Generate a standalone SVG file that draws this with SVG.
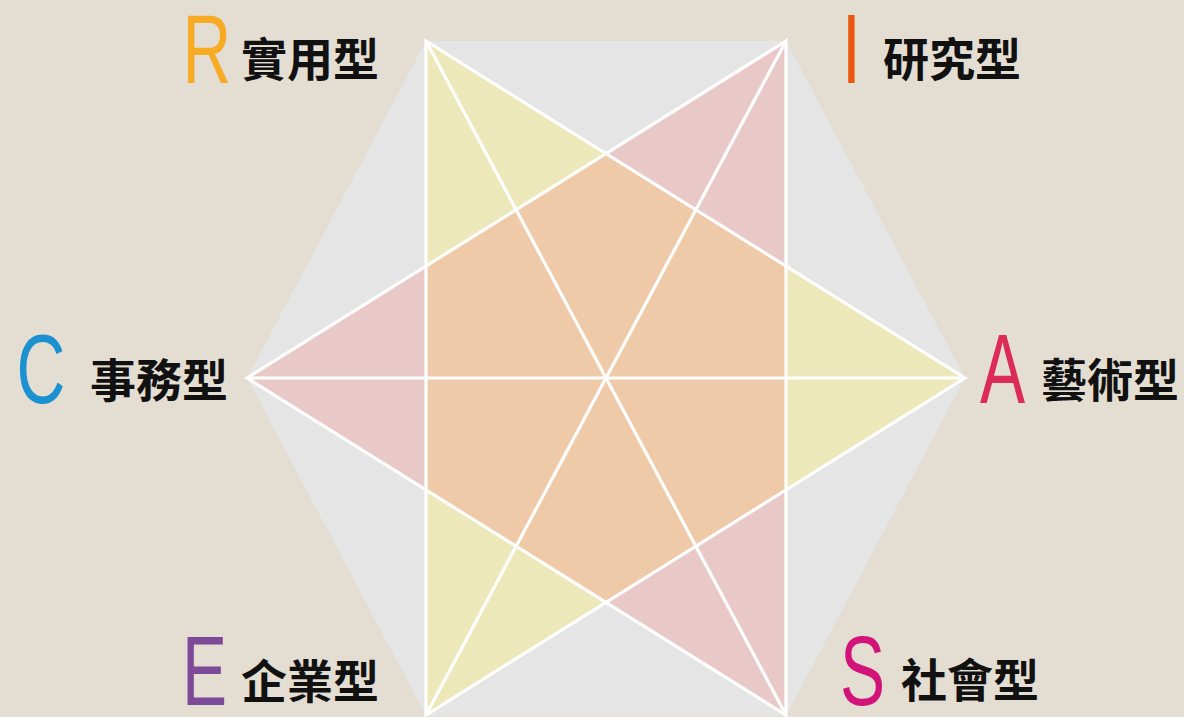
<svg xmlns="http://www.w3.org/2000/svg" width="1184" height="717" viewBox="0 0 1184 717">
  <style>
    .lt { font-family: "Liberation Sans", Arial, sans-serif; font-size: 98px; text-anchor: middle; }
    .lb { font-family: "Noto Sans CJK TC", "Noto Sans CJK SC", sans-serif; font-size: 46px; font-weight: 700; fill: #111; }
    .wl { stroke: #ffffff; stroke-width: 3.2; fill: none; stroke-linejoin: miter; }
  </style>
  <rect x="0" y="0" width="1184" height="717" fill="#e3ddd2"/>
  <g id="shapes">
    <polygon points="426,41 786,41 965,378 786,716 426,716 247,378" fill="#e5e5e5"/>
    <polygon points="426,41 965,378 426,715" fill="#ede8b9"/>
    <polygon points="786,41 247,378 786,715" fill="#e8c9c8"/>
    <polygon points="606,153.5 786,266.1 786,489.9 606,602.5 426,489.9 426,266.1" fill="#eecaa9"/>
  </g>
  <g id="connectors">
    <polygon class="wl" points="426,41 965,378 426,715"/>
    <polygon class="wl" points="786,41 247,378 786,715"/>
    <line class="wl" x1="426" y1="41" x2="786" y2="715"/>
    <line class="wl" x1="786" y1="41" x2="426" y2="715"/>
    <line class="wl" x1="247" y1="378" x2="965" y2="378"/>
  </g>
  <g id="node-R">
    <text class="lt" fill="#f7ab24" transform="translate(207,83) scale(0.69,1)">R</text>
    <text class="lb" x="241" y="76">實用型</text>
  </g>
  <g id="node-I">
    <text class="lt" fill="#e8580e" transform="translate(851.3,83) scale(0.69,1)">I</text>
    <text class="lb" x="883" y="76">研究型</text>
  </g>
  <g id="node-C">
    <text class="lt" fill="#1b91d0" transform="translate(41,403) scale(0.69,1)">C</text>
    <text class="lb" x="90" y="397">事務型</text>
  </g>
  <g id="node-A">
    <text class="lt" fill="#dc2c55" transform="translate(1002.5,403) scale(0.69,1)">A</text>
    <text class="lb" x="1041" y="397">藝術型</text>
  </g>
  <g id="node-E">
    <text class="lt" fill="#7d4a9a" transform="translate(204.5,705) scale(0.69,1)">E</text>
    <text class="lb" x="241" y="698">企業型</text>
  </g>
  <g id="node-S">
    <text class="lt" fill="#d2137a" transform="translate(862.5,705) scale(0.69,1)">S</text>
    <text class="lb" x="901" y="697">社會型</text>
  </g>
</svg>
